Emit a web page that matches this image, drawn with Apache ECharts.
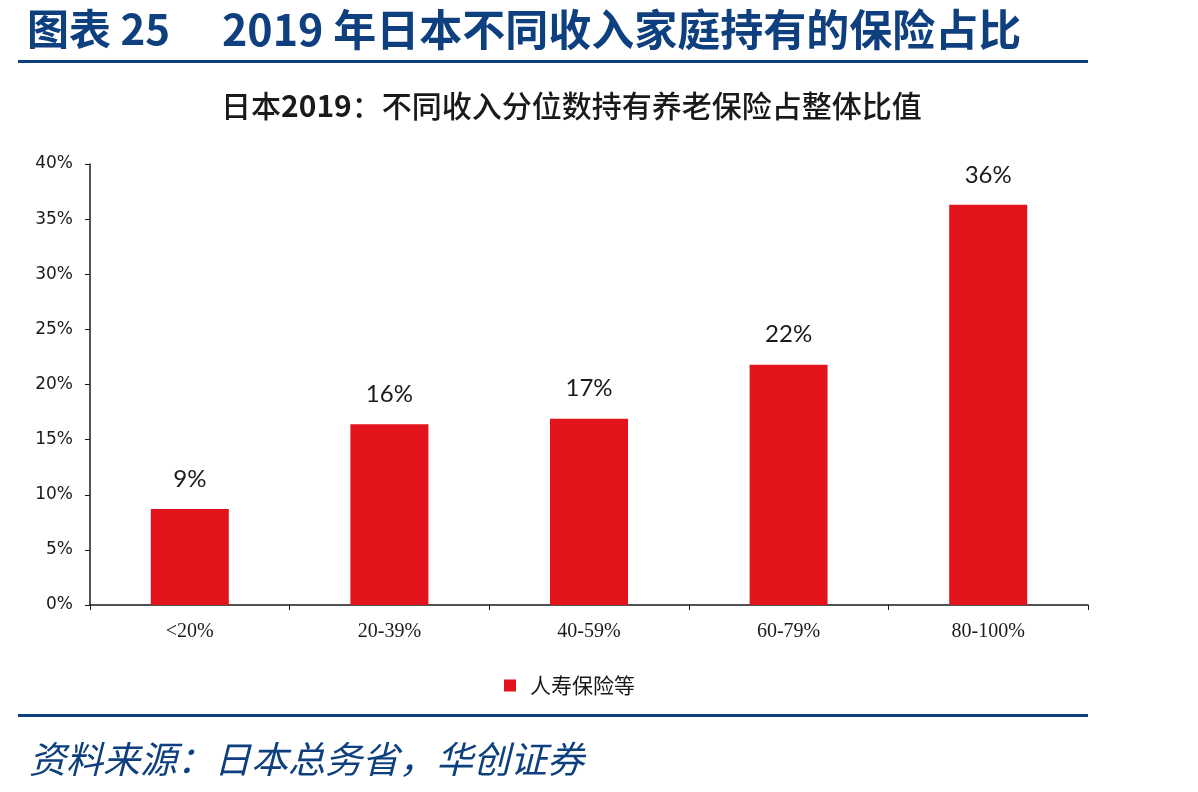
<!DOCTYPE html>
<html>
<head>
<meta charset="utf-8">
<script src="https://cdn.jsdelivr.net/npm/echarts@6/dist/echarts.min.js"></script>
<style>
  html, body { margin: 0; padding: 0; background: #fff; }
  #chart { width: 1198px; height: 792px; }
</style>
</head>
<body>
<div id="chart"></div>
<script>
// 收入分位
var categories = ['<20%', '20-39%', '40-59%', '60-79%', '80-100%'];
// 人寿保险等 占比（%）
var shareValues = [8.7, 16.4, 16.9, 21.8, 36.3];
var seriesName = '人寿保险等';
var yTicks = { min: 0, max: 40, interval: 5 };

var blue = '#0E3F7E';
var red = '#E3131B';

var myChart = echarts.init(document.getElementById('chart'));
var option = {
  backgroundColor: '#fff',
  animation: false,
  title: [
    {
      text: '图表 25',
      left: 22, top: 3,
      textStyle: { fontFamily: 'Noto Sans CJK SC', fontSize: 42, fontWeight: 'bold', color: blue }
    },
    {
      text: '2019 年日本不同收入家庭持有的保险占比',
      left: 217, top: 3,
      textStyle: { fontFamily: 'Noto Sans CJK SC', fontSize: 43, fontWeight: 'bold', color: blue }
    },
    {
      text: '日本{b|2019}：不同收入分位数持有养老保险占整体比值',
      left: 216, top: 86,
      textStyle: {
        fontFamily: 'Noto Sans CJK SC', fontSize: 30, fontWeight: 500, color: '#1a1a1a',
        rich: { b: { fontFamily: 'Noto Sans CJK SC', fontSize: 30, fontWeight: 'bold', color: '#1a1a1a' } }
      }
    },
    {
      text: '资料来源：日本总务省，华创证券',
      left: 24, top: 735,
      textStyle: { fontFamily: 'Noto Sans CJK SC', fontSize: 37, fontStyle: 'italic', fontWeight: 'normal', color: blue }
    }
  ],
  graphic: [
    { type: 'rect', shape: { x: 18, y: 60, width: 1070, height: 3 }, style: { fill: blue } },
    { type: 'rect', shape: { x: 18, y: 714, width: 1070, height: 3 }, style: { fill: blue } }
  ],
  legend: {
    data: [seriesName],
    left: 499, top: 670,
    icon: 'rect', itemWidth: 12, itemHeight: 12, itemGap: 12,
    textStyle: { fontFamily: 'Noto Sans CJK SC', fontSize: 21, color: '#1a1a1a', padding: [0, 0, 0, 9] }
  },
  grid: { left: 90, right: 110, top: 164, bottom: 187 },
  xAxis: {
    type: 'category',
    data: categories,
    axisLine: { lineStyle: { color: '#1a1a1a', width: 1.5 } },
    axisTick: { show: true, length: 5, lineStyle: { color: '#1a1a1a' } },
    axisLabel: { margin: 17, fontFamily: 'Liberation Serif', fontSize: 20, color: '#1a1a1a' }
  },
  yAxis: {
    type: 'value',
    min: yTicks.min, max: yTicks.max, interval: yTicks.interval,
    axisLine: { show: true, lineStyle: { color: '#1a1a1a', width: 1.5 } },
    axisTick: { show: true, length: 5, lineStyle: { color: '#1a1a1a' } },
    splitLine: { show: false },
    axisLabel: { margin: 17, formatter: '{value}%', fontFamily: 'DejaVu Sans', fontSize: 17, color: '#1a1a1a' }
  },
  series: [
    {
      name: seriesName,
      type: 'bar',
      data: shareValues,
      barWidth: 78,
      itemStyle: { color: red },
      label: {
        show: true,
        position: 'top',
        distance: 18,
        formatter: function (p) { return Math.round(p.value) + '%'; },
        fontFamily: 'Lato',
        fontSize: 24,
        color: '#1a1a1a'
      }
    }
  ]
};
myChart.setOption(option);
window.addEventListener('resize', function () { myChart.resize(); });
</script>
</body>
</html>
